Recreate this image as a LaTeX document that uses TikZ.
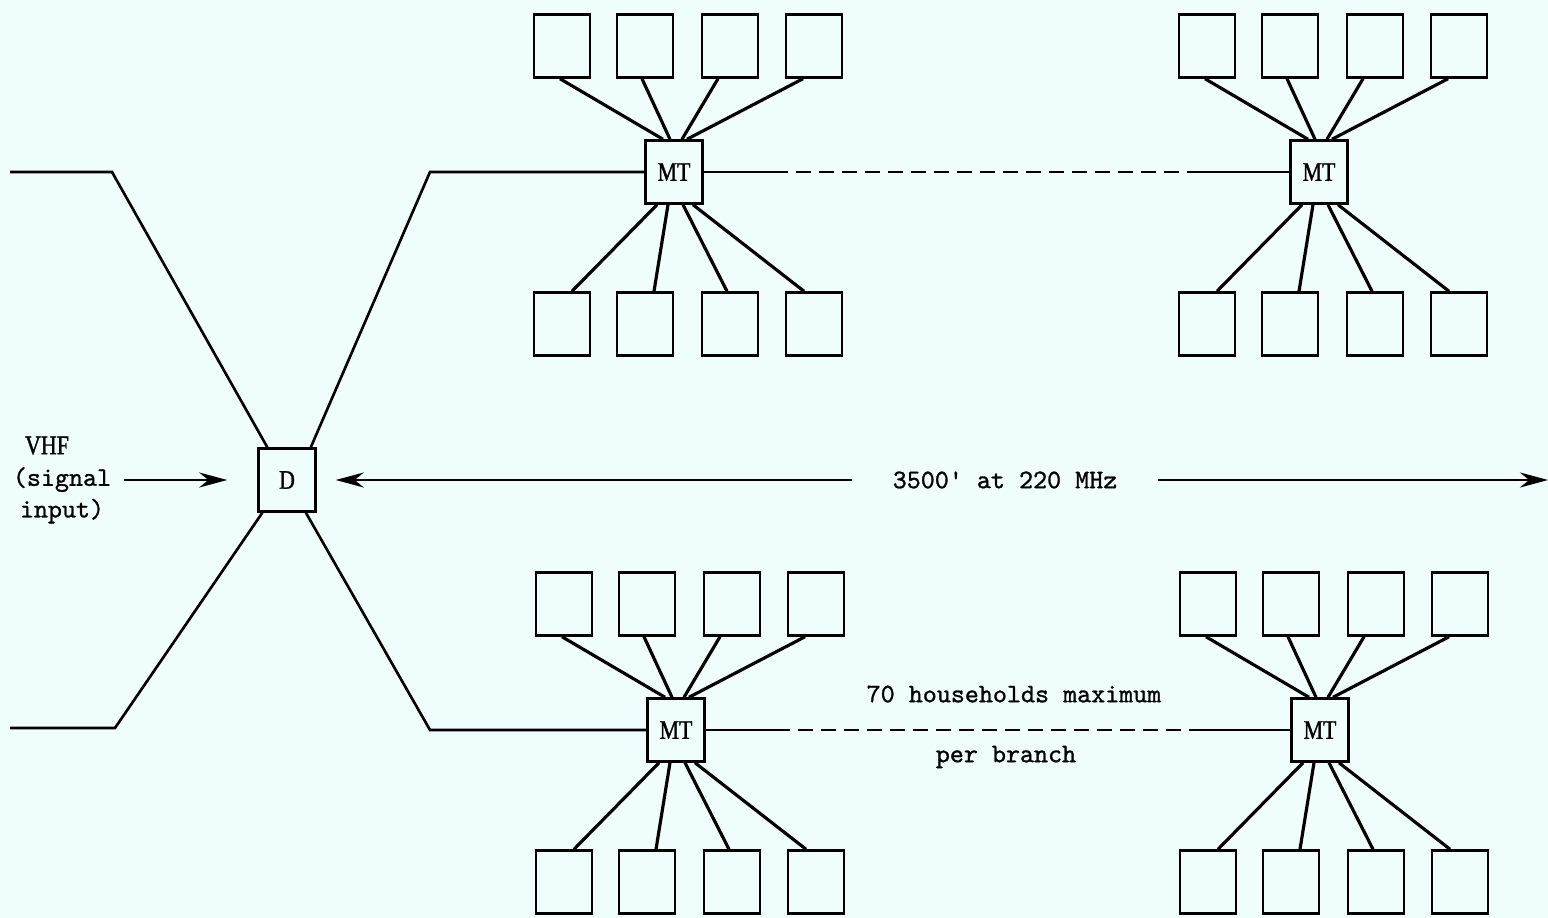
\documentclass[tikz,border=0pt]{standalone}
\usepackage{fontspec}
\newfontfamily\plainserif[FakeStretch=0.82, FakeBold=1.2]{Liberation Serif}
\newfontfamily\typefont[FakeBold=1.0]{lmmono10-regular.otf}
\usetikzlibrary{arrows.meta}
\definecolor{paper_cyan}{RGB}{239,253,253}

\begin{document}
\begin{tikzpicture}[
    x=0.01cm, y=-0.01cm,
% Block styles
    house/.style={rectangle, draw, line width=0.7pt, minimum width=0.56cm, minimum height=0.63cm, inner sep=0pt},
    tap/.style={rectangle, draw, line width=0.7pt, minimum width=0.57cm, minimum height=0.63cm, inner sep=0pt, font=\fontsize{7.6}{8}\plainserif},
    typed/.style={font=\fontsize{7.6}{9}\typefont},
    wire/.style={line width=0.75pt},
    feed/.style={line width=0.9pt},
    gap/.style={line width=0.7pt, dash pattern=on 1.5mm off 0.8mm},
    tip/.style={-{Stealth[length=2.8mm,width=1.5mm]}}
]
\path[use as bounding box, fill=paper_cyan] (0,0) rectangle (1548,918);

% 1. Distribution point and signal input
\node[tap] (d) at (287,480) {D};
\node[typed, align=center] (vhf) at (62,480) {{\fontsize{7.6}{8}\plainserif VHF}\hspace*{0.3cm}\\(signal\\input)};
\draw[wire, tip, shorten >=3mm] (vhf.east) -- (d.west);

% 2. Taps with their households
\foreach \g/\mx/\my in {a/674/172, b/1319/172, c/676/730, e/1320/730} {
  \node[tap] (mt\g) at (\mx,\my) {MT};
  \foreach \i/\dx/\ts/\te/\bs/\be in {1/-112/-2/-11/-17/10, 2/-29/-3/-4/-6/9, 3/56/-12/8/9/-3, 4/140/-11/13/19/-10} {
    \node[house] (top\g\i) at (\mx+\dx,\my-126) {};
    \node[house] (bot\g\i) at (\mx+\dx,\my+152) {};
    \draw[feed] ([xshift=\ts*0.1mm]top\g\i.south) -- ([xshift=\te*0.1mm]mt\g.north);
    \draw[feed] ([xshift=\bs*0.1mm]mt\g.south) -- ([xshift=\be*0.1mm]bot\g\i.north);
  }
}

% 3. Branches leaving D
\coordinate (ulbend) at (112,172);
\coordinate (ulend) at (10,172);
\coordinate (llbend) at (115,728);
\coordinate (llend) at (10,728);
\coordinate (urbend) at (430,172);
\coordinate (lrbend) at (430,730);
\draw[wire] (d.121) -- (ulbend) -- (ulend);
\draw[wire] (d.233) -- (llbend) -- (llend);
\draw[wire] (d.54) -- (urbend) -- (mta.west);
\draw[wire] (d.300) -- (lrbend) -- (mtc.west);

% Trunk between taps
\draw[gap] (mta.east) -- (mtb.west);
\draw[wire] (mta.east) -- ++(78,0);
\draw[wire] (mtb.west) -- ++(-100,0);
\draw[gap] (mtc.east) -- (mte.west);
\draw[wire] (mtc.east) -- ++(82,0);
\draw[wire] (mte.west) -- ++(-88,0);

% 4. Span length
\node[typed, inner xsep=0.4cm] (span) at (1005,480) {3500' at 220 MHz};
\coordinate (edge) at (1548,480);
\draw[wire, tip, shorten >=1.9mm] (span.west) -- (d.east);
\draw[wire, tip] (span.east) -- (edge);

\node[typed] (limit) at (1014,694) {70 households maximum};
\node[typed] (branch) at (1006,757) {per branch};

\end{tikzpicture}
\end{document}
